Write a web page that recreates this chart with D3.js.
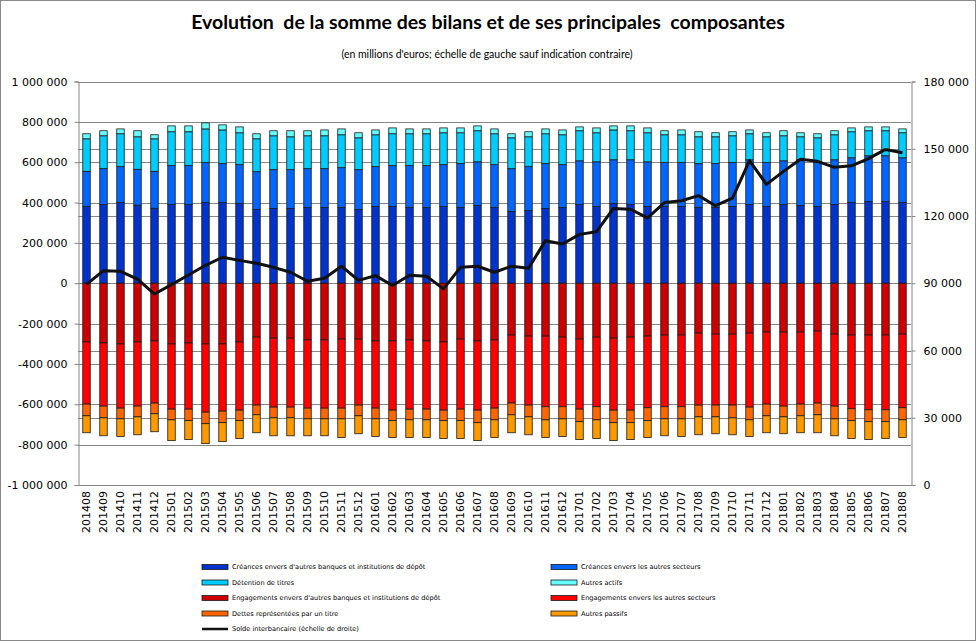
<!DOCTYPE html>
<html><head><meta charset="utf-8">
<script src="https://cdn.jsdelivr.net/npm/d3@7"></script>
<style>body{margin:0;background:#fff}svg{display:block}</style>
</head><body>
<svg id="c" width="976" height="641"></svg>
<script>
// values in thousands of euros
const months = ["201408","201409","201410","201411","201412","201501","201502","201503","201504","201505","201506","201507","201508","201509","201510","201511","201512","201601","201602","201603","201604","201605","201606","201607","201608","201609","201610","201611","201612","201701","201702","201703","201704","201705","201706","201707","201708","201709","201710","201711","201712","201801","201802","201803","201804","201805","201806","201807","201808"];
const creancesBanques = [380,390,400,387,372,390,390,400,400,395,365,370,370,375,375,375,365,380,380,375,375,380,375,385,375,356,360,370,375,390,380,395,390,380,380,380,375,375,380,390,380,390,385,380,390,400,405,405,400];
const creancesSecteurs = [175,178,178,178,183,193,193,198,193,193,188,193,193,193,193,198,198,198,203,208,208,208,218,217,213,212,218,223,213,217,222,217,222,222,218,218,218,218,218,222,218,217,227,218,222,222,227,227,222];
const detentionTitres = [161,163,163,161,161,168,168,167,167,158,163,168,163,163,163,163,158,158,158,158,158,158,153,154,153,153,148,148,148,149,144,148,144,144,138,138,133,133,133,129,128,124,114,123,124,129,124,124,124];
const autresActifs = [25,25,24,30,20,29,29,30,25,29,25,25,30,25,29,29,25,24,29,24,24,24,24,24,24,20,25,24,24,19,24,20,24,24,20,24,25,20,20,19,20,25,20,20,20,19,19,19,19];
const engagementsBanques = [291,296,301,291,286,301,296,301,301,291,267,272,272,281,281,277,277,286,286,281,286,291,277,286,281,257,262,262,267,277,267,272,267,262,257,257,247,252,252,247,242,242,242,237,252,257,257,257,252];
const engagementsSecteurs = [308,313,318,318,308,323,328,338,333,338,337,342,342,338,338,342,327,333,343,343,338,338,347,343,338,337,342,350,345,347,345,357,362,355,355,355,357,352,352,367,357,367,357,357,357,365,370,370,365];
const dettesTitre = [58,58,53,53,53,53,57,57,57,52,48,53,53,53,53,53,53,53,52,53,53,52,57,62,58,58,58,65,60,62,65,62,62,64,60,60,58,58,63,63,58,53,58,58,63,59,59,59,60];
const autresPassifs = [84,89,88,89,89,103,94,99,94,89,89,89,89,84,84,93,89,88,84,88,88,89,89,89,88,89,89,88,88,89,93,89,84,84,84,88,89,84,84,83,84,84,84,89,84,89,89,84,88];
const soldeInterbancaire = [89.5,95.6,95.3,91.8,85.2,89.4,93.7,98.0,101.6,100.2,98.9,97.1,94.9,90.9,92.2,97.6,91.3,93.4,89.0,93.6,93.1,87.5,97.1,97.6,94.9,97.6,96.7,109.0,107.5,111.8,113.0,123.4,123.0,119.2,126.0,126.8,129.1,124.6,128.0,144.7,134.1,139.9,145.3,144.4,141.7,142.4,145.6,149.7,148.2];
const leftTicks = [-1000,-800,-600,-400,-200,0,200,400,600,800,1000];
const rightTicks = [0,30,60,90,120,150,180];

const title = "Evolution  de la somme des bilans et de ses principales  composantes";
const subtitle = "(en millions d'euros; échelle de gauche sauf indication contraire)";

const assetSeries = [
  {name:"Créances envers d'autres banques et institutions de dépôt", values:creancesBanques, color:"#0033cc"},
  {name:"Créances envers les autres secteurs", values:creancesSecteurs, color:"#0066ff"},
  {name:"Détention de titres", values:detentionTitres, color:"#00ccff"},
  {name:"Autres actifs", values:autresActifs, color:"#66ffff"}
];
const liabSeries = [
  {name:"Engagements envers d'autres banques et institutions de dépôt", values:engagementsBanques, color:"#cc0000"},
  {name:"Engagements envers les autres secteurs", values:engagementsSecteurs, color:"#ff0000"},
  {name:"Dettes représentées par un titre", values:dettesTitre, color:"#ff6600"},
  {name:"Autres passifs", values:autresPassifs, color:"#ff9900"}
];
const lineName = "Solde interbancaire (échelle de droite)";

const svg = d3.select("#c");
const W = 976, H = 641;
const L = 78, R = 911, T = 81.5, B = 485;
const grid = "#868686";

const loc = d3.formatLocale({decimal:",", thousands:" ", grouping:[3], currency:["","€"], minus:"-"});
const fmt = v => loc.format(",.0f")(v*1000);

const x = d3.scaleBand().domain(months).range([L,R]).paddingInner(0.56).paddingOuter(0.28);
const yL = d3.scaleLinear().domain([-1000,1000]).range([B,T]);
const yR = d3.scaleLinear().domain([0,180]).range([B,T]);

svg.append("rect").attr("x",0.5).attr("y",0.5).attr("width",W-1).attr("height",H-1)
  .attr("fill","#fff").attr("stroke","#8a8a8a");

// gridlines
const g = svg.append("g");
g.selectAll("line.gl").data(leftTicks.filter(d=>d>-1000)).join("line")
  .attr("x1",L).attr("x2",R).attr("y1",d=>Math.round(yL(d))+0.5).attr("y2",d=>Math.round(yL(d))+0.5)
  .attr("stroke",grid).attr("stroke-width",1);
g.selectAll("line.gr").data(rightTicks.filter(d=>d>0)).join("line")
  .attr("x1",L).attr("x2",R).attr("y1",d=>Math.round(yR(d))+0.5).attr("y2",d=>Math.round(yR(d))+0.5)
  .attr("stroke",grid).attr("stroke-width",1);

// stacked bars
function drawStack(series, sign){
  months.forEach((m,i)=>{
    let acc = 0;
    series.forEach(s=>{
      const v = s.values[i];
      const y0 = yL(sign*acc), y1 = yL(sign*(acc+v));
      svg.append("rect")
        .attr("x",x(m)).attr("width",x.bandwidth())
        .attr("y",Math.min(y0,y1)).attr("height",Math.abs(y1-y0))
        .attr("fill",s.color).attr("stroke","#1a1a1a").attr("stroke-width",0.8);
      acc += v;
    });
  });
}
drawStack(assetSeries, 1);
drawStack(liabSeries, -1);

// line
const line = d3.line().x((d,i)=>x(months[i])+x.bandwidth()/2).y(d=>yR(d));
svg.append("path").datum(soldeInterbancaire).attr("d",line)
  .attr("fill","none").attr("stroke","#111").attr("stroke-width",3).attr("stroke-linejoin","round");

// axes
const axL = d3.axisLeft(yL).tickValues(leftTicks).tickFormat(fmt).tickSize(4).tickPadding(7);
const gl = svg.append("g").attr("transform",`translate(${L+0.5},0)`).call(axL);
const axR = d3.axisRight(yR).tickValues(rightTicks).tickFormat(fmt).tickSize(4).tickPadding(8);
const gr = svg.append("g").attr("transform",`translate(${R+0.5},0)`).call(axR);
[gl,gr].forEach(a=>{
  a.select(".domain").attr("stroke",grid);
  a.selectAll(".tick line").attr("stroke",grid);
  a.selectAll("text").attr("font-family","DejaVu Sans").attr("font-size",11).attr("fill","#000");
});
svg.append("line").attr("x1",L).attr("x2",R+1).attr("y1",B+0.5).attr("y2",B+0.5).attr("stroke",grid);

// x labels
svg.append("g").selectAll("text").data(months).join("text")
  .attr("transform",d=>`translate(${x(d)+x.bandwidth()/2},${B+6}) rotate(-90)`)
  .attr("text-anchor","end").attr("dy","0.36em")
  .attr("font-family","DejaVu Sans").attr("font-size",11).attr("fill","#000").text(d=>d);

// titles
svg.append("text").attr("x",488).attr("y",29).attr("text-anchor","middle")
  .attr("font-family","Lato").attr("font-weight","bold").attr("font-size",19.5)
  .attr("xml:space","preserve").style("white-space","pre").text(title);
svg.append("text").attr("x",487).attr("y",58).attr("text-anchor","middle")
  .attr("font-family","Lato").attr("font-size",10.5).text(subtitle);

// legend
const legendItems = [
  {s:assetSeries[0],col:0,row:0},{s:assetSeries[1],col:1,row:0},
  {s:assetSeries[2],col:0,row:1},{s:assetSeries[3],col:1,row:1},
  {s:liabSeries[0],col:0,row:2},{s:liabSeries[1],col:1,row:2},
  {s:liabSeries[2],col:0,row:3},{s:liabSeries[3],col:1,row:3}
];
const colX = [202,551], rowY = [567,582.5,598,613.5,629];
const lg = svg.append("g");
legendItems.forEach(it=>{
  lg.append("rect").attr("x",colX[it.col]).attr("y",rowY[it.row]-2.5).attr("width",26).attr("height",5)
    .attr("fill",it.s.color).attr("stroke","#1a1a1a").attr("stroke-width",0.8);
  lg.append("text").attr("x",colX[it.col]+30).attr("y",rowY[it.row]).attr("dy","0.35em")
    .attr("font-family","DejaVu Sans").attr("font-size",6.6).text(it.s.name);
});
lg.append("line").attr("x1",colX[0]).attr("x2",colX[0]+26).attr("y1",rowY[4]).attr("y2",rowY[4])
  .attr("stroke","#111").attr("stroke-width",2.5);
lg.append("text").attr("x",colX[0]+30).attr("y",rowY[4]).attr("dy","0.35em")
  .attr("font-family","DejaVu Sans").attr("font-size",6.6).text(lineName);
</script>
</body></html>
